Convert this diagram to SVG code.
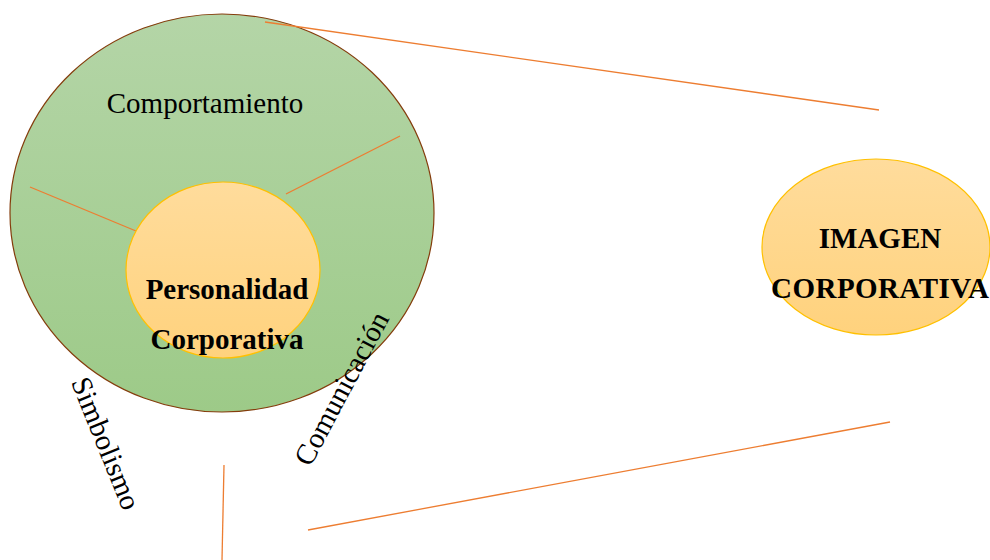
<svg xmlns="http://www.w3.org/2000/svg" width="990" height="560" viewBox="0 0 990 560">
<style>
.lbl{font-family:"Liberation Serif","Times New Roman",serif;font-size:29px;fill:#000}
.b{font-weight:bold}
.ln{stroke:#ed7d31;stroke-width:1.3;fill:none}
</style>
<defs>
<linearGradient id="gGreen" x1="0" y1="0" x2="0" y2="1">
<stop offset="0" stop-color="#b4d5a7"/>
<stop offset="1" stop-color="#9dca88"/>
</linearGradient>
<linearGradient id="gOrange" x1="0" y1="0" x2="0" y2="1">
<stop offset="0" stop-color="#ffdc9c"/>
<stop offset="1" stop-color="#ffd27d"/>
</linearGradient>
</defs>
<rect width="990" height="560" fill="#fff"/>
<g id="outer">
<ellipse cx="222" cy="213" rx="212" ry="199" fill="url(#gGreen)" stroke="#843c0c" stroke-width="1.2"/>
<text class="lbl" x="205" y="113" text-anchor="middle">Comportamiento</text>
</g>
<g id="connectors">
<line class="ln" x1="265" y1="22" x2="879" y2="110"/>
<line class="ln" x1="30" y1="187" x2="136" y2="231"/>
<line class="ln" x1="286" y1="194" x2="400" y2="136"/>
<line class="ln" x1="224" y1="465" x2="222" y2="560"/>
<line class="ln" x1="308" y1="530" x2="890" y2="422"/>
</g>
<g id="inner">
<ellipse cx="223" cy="270" rx="97" ry="88" fill="url(#gOrange)" stroke="#ffc000" stroke-width="1.2"/>
<text class="lbl b" x="227" y="299" text-anchor="middle">Personalidad</text>
<text class="lbl b" x="227" y="349" text-anchor="middle">Corporativa</text>
</g>
<g id="imagen">
<ellipse cx="876" cy="247" rx="114" ry="88" fill="url(#gOrange)" stroke="#ffc000" stroke-width="1.2"/>
<text class="lbl b" x="880" y="248" text-anchor="middle">IMAGEN</text>
<text class="lbl b" x="880" y="298" text-anchor="middle" textLength="218" lengthAdjust="spacing">CORPORATIVA</text>
</g>
<g id="simbolismo">
<text class="lbl" transform="translate(97,447) rotate(68)" text-anchor="middle">Simbolismo</text>
</g>
<g id="comunicacion">
<text class="lbl" transform="translate(350,393) rotate(-62)" text-anchor="middle">Comunicación</text>
</g>
</svg>
